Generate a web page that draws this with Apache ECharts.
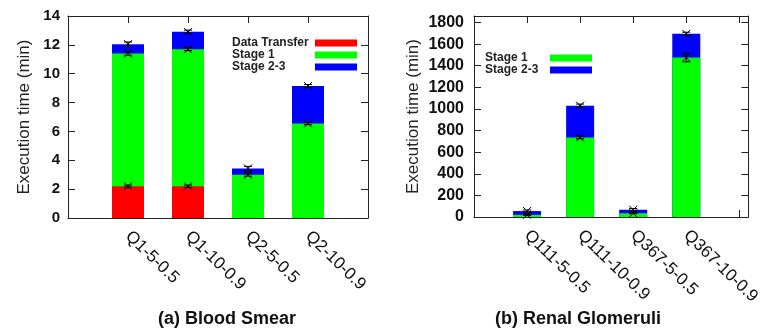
<!DOCTYPE html>
<html>
<head>
<meta charset="utf-8">
<script src="https://cdn.jsdelivr.net/npm/echarts@6/dist/echarts.min.js"></script>
<style>
  html, body { margin: 0; padding: 0; background: #fff; }
  #wrap { position: relative; width: 763px; height: 334px; }
  .panel { position: absolute; left: 0; top: 0; width: 763px; height: 334px; }
</style>
</head>
<body>
<div id="wrap">
  <div id="blood" class="panel"></div>
  <div id="renal" class="panel"></div>
</div>
<script>
// (a) Blood Smear
const bloodQueries = ['Q1-5-0.5', 'Q1-10-0.9', 'Q2-5-0.5', 'Q2-10-0.9'];
const bloodTransfer = [2.2, 2.2, 0, 0];
const bloodStage1 = [9.2, 9.5, 3.0, 6.55];
const bloodStage23 = [0.65, 1.2, 0.43, 2.6];
const bloodTransferErr = [0.08, 0.08, 0, 0];
const bloodStage1Err = [0.12, 0.1, 0.1, 0.08];
const bloodStage23Err = [0.15, 0.12, 0.15, 0.1];

// (b) Renal Glomeruli
const renalQueries = ['Q111-5-0.5', 'Q111-10-0.9', 'Q367-5-0.5', 'Q367-10-0.9'];
const renalStage1 = [20, 736, 35, 1476];
const renalStage23 = [35, 294, 32, 219];
const renalStage1Err = [5, 12, 5, 40];
const renalStage23Err = [10, 15, 12, 15];

const positions = [1, 2, 3, 4];
const FONT = 'Liberation Sans, Arial, sans-serif';
const RED = '#ff0000', GREEN = '#00ff00', BLUE = '#0000ff';

// running totals so the segments sit on top of each other
function cumulate(...arrs) {
  return arrs[0].map((_, i) => arrs.reduce((s, a) => s + a[i], 0));
}
const bloodTop1 = cumulate(bloodTransfer);
const bloodTop2 = cumulate(bloodTransfer, bloodStage1);
const bloodTop3 = cumulate(bloodTransfer, bloodStage1, bloodStage23);
const renalTop1 = cumulate(renalStage1);
const renalTop2 = cumulate(renalStage1, renalStage23);

const pts = (vals) => vals.map((v, i) => [positions[i], v]);
function errPts(pairs) {
  let out = [];
  pairs.forEach(([tops, errs, seg]) => {
    tops.forEach((t, i) => { if (seg[i] > 0) out.push([positions[i], t, errs[i]]); });
  });
  return out;
}

const mkLine = () => ({ show: true, onZero: false, lineStyle: { color: '#222', width: 1 } });
const mkTick = () => ({ show: true, inside: true, length: 7, lineStyle: { color: '#222', width: 1 } });

function renderErr(params, api) {
  const x = api.value(0), y = api.value(1), e = api.value(2);
  const c = api.coord([x, y]);
  const lo = api.coord([x, y - e]);
  const hi = api.coord([x, y + e]);
  const s = 4;
  const st = { stroke: '#000', lineWidth: 1 };
  const line = (x1, y1, x2, y2) => ({ type: 'line', shape: { x1, y1, x2, y2 }, style: st });
  return {
    type: 'group',
    children: [
      line(c[0] - s, c[1] - s, c[0] + s, c[1] + s),
      line(c[0] - s, c[1] + s, c[0] + s, c[1] - s),
      line(c[0], lo[1], c[0], hi[1]),
      line(c[0] - s, lo[1], c[0] + s, lo[1]),
      line(c[0] - s, hi[1], c[0] + s, hi[1])
    ]
  };
}

// one panel = one chart instance with a single grid
function panel(id, p) {
  let myChart = echarts.init(document.getElementById(id));
  myChart.setOption({
    animation: false,
    grid: p.grid,
    xAxis: [
      {
        type: 'value', min: 0, max: p.xMax, interval: 1, position: 'bottom',
        axisLine: mkLine(), axisTick: mkTick(), splitLine: { show: false },
        axisLabel: {
          rotate: -44, margin: 16, showMaxLabel: false,
          fontSize: 17, color: '#111', fontFamily: FONT,
          formatter: (v) => p.names[Math.round(v) - 1] || ''
        }
      },
      {
        type: 'value', min: 0, max: p.xMax, interval: 1, position: 'top',
        axisLine: mkLine(), axisTick: mkTick(), splitLine: { show: false },
        axisLabel: { show: false }
      }
    ],
    yAxis: [
      {
        type: 'value', min: 0, max: p.yMax, interval: p.step, position: 'left',
        name: 'Execution time (min)', nameLocation: 'middle', nameGap: p.nameGap,
        nameTextStyle: { fontSize: 17, color: '#222', fontFamily: FONT },
        axisLine: mkLine(), axisTick: mkTick(), splitLine: { show: false },
        axisLabel: {
          margin: p.labelMargin, fontSize: p.labelSize, fontWeight: 'bold',
          color: '#111', fontFamily: FONT,
          formatter: (v) => (v % p.step === 0 ? String(v) : '')
        }
      },
      {
        type: 'value', min: 0, max: p.yMax, interval: p.step, position: 'right',
        axisLine: mkLine(), axisTick: mkTick(), splitLine: { show: false },
        axisLabel: { show: false }
      }
    ],
    legend: {
      data: p.legend,
      orient: 'vertical', left: p.legendLeft, top: p.legendTop, align: 'right', padding: 0,
      itemWidth: 42, itemHeight: 7, itemGap: 0, icon: 'rect', selectedMode: false,
      formatter: (name) => '{t|' + name + '}',
      textStyle: {
        fontSize: 12, fontWeight: 'bold', color: '#222', fontFamily: FONT,
        rich: { t: { width: p.legendWidth, align: 'left', fontSize: 12, fontWeight: 'bold', color: '#222', fontFamily: FONT } }
      }
    },
    graphic: [{
      type: 'text', x: p.captionX, y: 319,
      style: { text: p.caption, align: 'center', verticalAlign: 'middle',
        font: 'bold 18px ' + FONT, fill: '#111' }
    }],
    series: [
      ...p.bars.map(([name, color, tops]) => ({
        name, type: 'bar', barWidth: p.barWidth, barGap: '-100%',
        itemStyle: { color }, data: pts(tops)
      })),
      { type: 'custom', z: 5, renderItem: renderErr, data: p.errors }
    ]
  });
  window.addEventListener('resize', () => { myChart.resize(); });
}

panel('blood', {
  grid: { left: 68, top: 16, width: 300, height: 202 },
  xMax: 5, yMax: 14, step: 2, names: bloodQueries,
  nameGap: 35, labelSize: 15, labelMargin: 8,
  legend: ['Data Transfer', 'Stage 1', 'Stage 2-3'], legendLeft: 232, legendTop: 37, legendWidth: 78,
  caption: '(a) Blood Smear', captionX: 227, barWidth: 32,
  // tallest first, shorter segments drawn over it
  bars: [['Stage 2-3', BLUE, bloodTop3], ['Stage 1', GREEN, bloodTop2], ['Data Transfer', RED, bloodTop1]],
  errors: errPts([[bloodTop1, bloodTransferErr, bloodTransfer], [bloodTop2, bloodStage1Err, bloodStage1], [bloodTop3, bloodStage23Err, bloodStage23]])
});

panel('renal', {
  grid: { left: 474, top: 16, width: 288, height: 201 },
  xMax: 5.17, yMax: 1860, step: 200, names: renalQueries,
  nameGap: 52, labelSize: 16, labelMargin: 10,
  legend: ['Stage 1', 'Stage 2-3'], legendLeft: 485, legendTop: 52, legendWidth: 60,
  caption: '(b) Renal Glomeruli', captionX: 578, barWidth: 28,
  bars: [['Stage 2-3', BLUE, renalTop2], ['Stage 1', GREEN, renalTop1]],
  errors: errPts([[renalTop1, renalStage1Err, renalStage1], [renalTop2, renalStage23Err, renalStage23]])
});
</script>
</body>
</html>
